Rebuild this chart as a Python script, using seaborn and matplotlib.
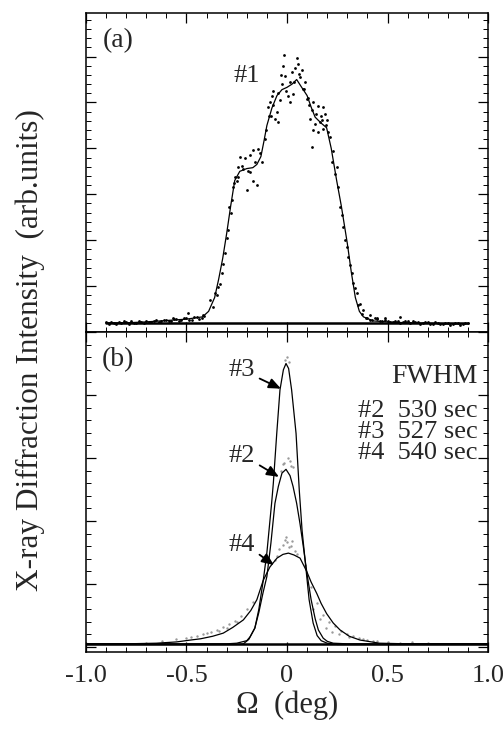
import numpy as np
import pandas as pd
import matplotlib
matplotlib.use("Agg")
import matplotlib.pyplot as plt
import seaborn as sns
from matplotlib.ticker import MultipleLocator

sns.set_theme(style="ticks")
plt.rcParams['font.family'] = ['Liberation Serif', 'DejaVu Serif']

# ---- panel (a): sample #1, fit curve + measured points ----
fit1_x = [-0.90, -0.80, -0.70, -0.60, -0.50, -0.42, -0.39, -0.36, -0.34, -0.32,
          -0.30, -0.28, -0.26, -0.235, -0.20, -0.17, -0.15, -0.13, -0.115, -0.10,
          -0.075, -0.05, -0.025, 0.00, 0.025, 0.048, 0.07, 0.10, 0.12, 0.14,
          0.17, 0.197, 0.22, 0.247, 0.27, 0.30, 0.32, 0.34, 0.36, 0.38,
          0.43, 0.50, 0.60, 0.70, 0.80, 0.90]
fit1_y = [0.20, 0.20, 0.22, 0.25, 0.28, 0.33, 0.45, 0.75, 1.15, 1.60,
          2.15, 2.75, 3.30, 3.50, 3.56, 3.58, 3.65, 3.82, 4.15, 4.50,
          4.88, 5.15, 5.28, 5.33, 5.40, 5.50, 5.35, 5.15, 4.90, 4.68,
          4.55, 4.45, 4.00, 3.30, 2.75, 1.93, 1.30, 0.75, 0.45, 0.33,
          0.24, 0.22, 0.20, 0.19, 0.18, 0.18]

pts1_x = [-0.015, 0.051, 0.056, -0.018, 0.073, 0.023, -0.010, 0.015, -0.026, -0.068,
          -0.076, -0.085, -0.093, -0.051, -0.060, -0.043, 0.007, 0.015, 0.031, 0.081,
          0.098, 0.131, 0.156, 0.123, 0.180, 0.189, 0.114, 0.139, 0.164, 0.131,
          0.156, 0.180, 0.123, 0.205, 0.214, -0.234, -0.209, -0.184, -0.168, -0.143,
          -0.242, -0.217, -0.184, -0.242, -0.200, -0.151, -0.250, -0.168, -0.125, -0.110,
          -0.383, -0.358, -0.342, -0.325, -0.317, -0.308, -0.292, -0.287, -0.275, -0.267,
          -0.259, 0.247, 0.256, 0.264, 0.280, 0.289, 0.305, 0.322, 0.330, 0.347,
          0.363, 0.380, 0.413, 0.446, 0.488, 0.562, -0.491, -0.566, -0.416, -0.030,
          0.040, 0.090, -0.005, 0.060, 0.110, 0.170, 0.200, 0.230, -0.035, -0.080,
          -0.370, -0.350, -0.333, -0.300, -0.280, -0.262, -0.222, -0.192, -0.160, -0.135,
          -0.105, -0.088, -0.070, -0.045, 0.035, 0.065, 0.085, 0.105, 0.145, 0.175,
          0.195, 0.225, 0.240, 0.272, 0.296, 0.312, 0.338, 0.355, 0.372, 0.395]
pts1_y = [6.04, 5.97, 5.83, 5.80, 5.70, 5.66, 5.57, 5.44, 5.41, 5.26,
          5.15, 5.00, 4.90, 4.79, 4.65, 4.57, 5.15, 5.00, 5.19, 5.30,
          5.08, 5.00, 4.93, 4.83, 4.90, 4.75, 4.65, 4.54, 4.57, 4.39,
          4.35, 4.43, 4.03, 4.35, 4.25, 3.81, 3.78, 3.85, 3.96, 3.99,
          3.59, 3.56, 3.48, 3.38, 3.09, 3.20, 3.30, 3.30, 3.70, 4.20,
          0.70, 0.85, 0.98, 1.28, 1.49, 1.71, 2.22, 2.72, 2.87, 3.16,
          3.38, 3.59, 3.16, 2.72, 2.29, 2.00, 1.64, 1.28, 1.06, 0.84,
          0.62, 0.48, 0.37, 0.30, 0.30, 0.33, 0.41, 0.30, 0.37, 5.60,
          5.75, 5.45, 5.25, 5.62, 4.95, 4.70, 4.62, 3.95, 5.05, 4.70,
          0.55, 0.80, 1.05, 2.05, 2.60, 3.25, 3.62, 3.50, 3.70, 3.90,
          4.40, 4.70, 4.95, 5.20, 5.45, 5.55, 5.30, 5.10, 4.75, 4.62,
          4.50, 3.70, 3.45, 2.55, 1.85, 1.45, 0.95, 0.58, 0.40, 0.31]

base1_x = [-0.90, -0.8875, -0.875, -0.8625, -0.85, -0.8375, -0.825, -0.8125, -0.80, -0.7875,
           -0.775, -0.7625, -0.75, -0.7375, -0.725, -0.7125, -0.70, -0.6875, -0.675, -0.6625,
           -0.65, -0.6375, -0.625, -0.6125, -0.60, -0.5875, -0.575, -0.5625, -0.55, -0.5375,
           -0.525, -0.5125, -0.50, -0.4875, -0.475, -0.4625, -0.45, -0.4375, -0.425, -0.4125,
           0.40, 0.4125, 0.425, 0.4375, 0.45, 0.4625, 0.475, 0.4875, 0.50, 0.5125,
           0.525, 0.5375, 0.55, 0.5625, 0.575, 0.5875, 0.60, 0.6125, 0.625, 0.6375,
           0.65, 0.6625, 0.675, 0.6875, 0.70, 0.7125, 0.725, 0.7375, 0.75, 0.7625,
           0.775, 0.7875, 0.80, 0.8125, 0.825, 0.8375, 0.85, 0.8625, 0.875, 0.8875, 0.90]
base1_y = [0.21, 0.17, 0.22, 0.19, 0.18, 0.21, 0.19, 0.23, 0.21, 0.18,
           0.23, 0.20, 0.20, 0.24, 0.22, 0.19, 0.24, 0.21, 0.21, 0.25,
           0.26, 0.22, 0.23, 0.27, 0.27, 0.23, 0.24, 0.28, 0.29, 0.25,
           0.26, 0.30, 0.31, 0.27, 0.27, 0.32, 0.32, 0.29, 0.30, 0.34,
           0.31, 0.27, 0.26, 0.30, 0.28, 0.24, 0.24, 0.27, 0.25, 0.21,
           0.22, 0.25, 0.24, 0.20, 0.21, 0.24, 0.23, 0.19, 0.23, 0.21,
           0.22, 0.18, 0.20, 0.22, 0.21, 0.17, 0.18, 0.21, 0.20, 0.17,
           0.17, 0.20, 0.20, 0.16, 0.18, 0.20, 0.19, 0.16, 0.17, 0.19, 0.19]

# ---- panel (b): samples #2, #3, #4 ----
fit2_x = [-1.00, -0.60, -0.40, -0.30, -0.25, -0.20, -0.184, -0.16, -0.14, -0.12,
          -0.10, -0.08, -0.06, -0.043, -0.025, -0.005, 0.015, 0.03, 0.048, 0.065,
          0.08, 0.10, 0.12, 0.14, 0.156, 0.18, 0.20, 0.23, 0.30, 0.50, 1.00]
fit2_y = [0.05, 0.05, 0.05, 0.05, 0.06, 0.10, 0.16, 0.30, 0.55, 0.85,
          1.12, 1.65, 2.28, 2.55, 2.76, 2.82, 2.72, 2.55, 2.28, 1.95,
          1.62, 1.15, 0.75, 0.45, 0.27, 0.14, 0.09, 0.06, 0.05, 0.05, 0.05]

fit3_x = [-1.00, -0.60, -0.40, -0.30, -0.25, -0.217, -0.19, -0.16, -0.14, -0.118,
          -0.10, -0.076, -0.068, -0.051, -0.035, -0.018, -0.005, 0.008, 0.023, 0.045,
          0.061, 0.075, 0.095, 0.11, 0.13, 0.15, 0.17, 0.20, 0.25, 0.40, 1.00]
fit3_y = [0.04, 0.04, 0.04, 0.04, 0.04, 0.05, 0.12, 0.30, 0.60, 1.06,
          1.50, 2.30, 2.60, 3.39, 4.08, 4.40, 4.50, 4.42, 4.08, 3.39,
          2.49, 1.85, 1.22, 0.75, 0.38, 0.18, 0.10, 0.06, 0.04, 0.04, 0.04]

fit4_x = [-1.00, -0.80, -0.65, -0.55, -0.48, -0.43, -0.37, -0.317, -0.27, -0.217,
          -0.18, -0.15, -0.118, -0.085, -0.05, -0.02, 0.007, 0.035, 0.065, 0.098,
          0.12, 0.148, 0.17, 0.197, 0.23, 0.264, 0.31, 0.363, 0.46, 0.60, 0.80, 1.00]
fit4_y = [0.05, 0.05, 0.06, 0.08, 0.11, 0.13, 0.17, 0.22, 0.31, 0.43,
          0.58, 0.75, 1.06, 1.27, 1.41, 1.47, 1.49, 1.46, 1.41, 1.20,
          1.03, 0.85, 0.69, 0.53, 0.38, 0.27, 0.17, 0.11, 0.06, 0.05, 0.05, 0.05]

# measured points of panel (b), drawn light grey
pts_b_x = [-0.010, 0.000, 0.010, -0.020, 0.015, -0.015, 0.005, 0.020, -0.030, 0.030,
           -0.040, -0.020, 0.000, 0.020, 0.040, -0.010, 0.010, -0.050, 0.050, -0.060,
           -0.550, -0.500, -0.450, -0.420, -0.380, -0.350, -0.320, -0.290, -0.260, -0.230,
           -0.200, -0.170, 0.120, 0.150, 0.180, 0.210, 0.240, 0.270, 0.300, 0.330,
           0.360, 0.400, 0.450, 0.500, 0.560, -0.620, -0.700, 0.620, 0.700, 0.090,
           -0.480, -0.400, -0.340, -0.300, -0.250, 0.130, 0.165, 0.195, 0.225, 0.260,
           0.310, 0.380, 0.430, -0.005, 0.025]
pts_b_y = [4.55, 4.60, 4.52, 2.90, 2.95, 2.92, 3.00, 2.88, 2.80, 2.85,
           1.55, 1.62, 1.66, 1.60, 1.52, 1.70, 1.58, 1.45, 1.48, 1.38,
           0.12, 0.14, 0.17, 0.20, 0.24, 0.27, 0.31, 0.36, 0.41, 0.49,
           0.60, 0.72, 0.95, 0.70, 0.50, 0.40, 0.33, 0.25, 0.20, 0.17,
           0.14, 0.11, 0.09, 0.08, 0.07, 0.09, 0.07, 0.08, 0.07, 1.30,
           0.16, 0.22, 0.25, 0.30, 0.40, 0.60, 0.45, 0.30, 0.24, 0.20,
           0.16, 0.12, 0.10, 1.75, 1.68]

fwhm_labels = ["#2  530 sec", "#3  527 sec", "#4  540 sec"]

fig = plt.figure(figsize=(5.04, 7.29), dpi=100)
ax_a = fig.add_axes([0.1706, 0.5446, 0.7977, 0.4376])
ax_b = fig.add_axes([0.1706, 0.1056, 0.7977, 0.4390], sharex=ax_a)

sns.scatterplot(x=base1_x, y=base1_y, ax=ax_a, color='black', s=4, linewidth=0)
sns.scatterplot(x=pts1_x, y=pts1_y, ax=ax_a, color='black', s=4, linewidth=0)
sns.lineplot(x=fit1_x, y=fit1_y, ax=ax_a, color='black', lw=0.9, estimator=None, sort=False)
ax_a.plot([-0.90, 0.90], [0.20, 0.20], color='black', lw=1.8, zorder=1)

sns.scatterplot(x=pts_b_x, y=pts_b_y, ax=ax_b, color='#9a9a9a', s=3, linewidth=0)
for fx, fy in [(fit2_x, fit2_y), (fit3_x, fit3_y), (fit4_x, fit4_y)]:
    sns.lineplot(x=fx, y=fy, ax=ax_b, color='black', lw=0.9, estimator=None, sort=False)
# thick flat background band in (b)
ax_b.axhline(0.05, color='black', lw=1.8, zorder=1)

ax_a.set_ylim(0, 6.95)
ax_b.set_ylim(-0.08, 5.0)
ax_a.set_xlim(-1.0, 1.0)

for ax in (ax_a, ax_b):
    ax.xaxis.set_major_locator(MultipleLocator(0.5))
    ax.xaxis.set_minor_locator(MultipleLocator(0.1))
    ax.yaxis.set_major_locator(MultipleLocator(1.0))
    ax.yaxis.set_minor_locator(MultipleLocator(0.2))
    ax.tick_params(which='both', direction='in', top=True, right=True,
                   left=True, bottom=True, labelleft=False, color='black')
    ax.tick_params(which='major', length=7, width=0.9)
    ax.tick_params(which='minor', length=3.5, width=0.7)
    for sp in ax.spines.values():
        sp.set_visible(True)
        sp.set_color('black')
        sp.set_linewidth(1.1)
    ax.set_ylabel("")
    ax.set_xlabel("")

ax_a.tick_params(labelbottom=False)
ax_b.set_xticks([-1.0, -0.5, 0.0, 0.5, 1.0])
ax_b.set_xticklabels(["-1.0", "-0.5", "0", "0.5", "1.0"], fontsize=19)
ax_b.tick_params(axis='x', pad=9)
ax_b.set_xlabel("Ω  (deg)", fontsize=22, labelpad=3)
fig.text(0.060, 0.52, "X-ray Diffraction Intensity  (arb.units)", rotation=90,
         ha='center', va='center', fontsize=22.5)

ax_a.text(-0.84, 6.35, "(a)", fontsize=20, ha='center', va='center')
ax_a.text(-0.265, 5.57, "#1", fontsize=19, ha='left', va='center')
ax_b.text(-0.84, 4.56, "(b)", fontsize=20, ha='center', va='center')

arr = dict(arrowstyle='-|>,head_length=0.38,head_width=0.16', color='black', lw=1.3,
           shrinkA=1, shrinkB=0, relpos=(1.0, 0.2))
ax_b.annotate("#3", xy=(-0.03, 4.10), xytext=(-0.29, 4.40), fontsize=19,
              ha='left', va='center', arrowprops=arr)
ax_b.annotate("#2", xy=(-0.04, 2.70), xytext=(-0.29, 3.03), fontsize=19,
              ha='left', va='center', arrowprops=arr)
ax_b.annotate("#4", xy=(-0.065, 1.30), xytext=(-0.29, 1.62), fontsize=19,
              ha='left', va='center', arrowprops=arr)

ax_b.text(0.95, 4.29, "FWHM", fontsize=20, ha='right', va='center')
for i, lab in enumerate(fwhm_labels):
    ax_b.text(0.95, 3.75 - i * 0.335, lab, fontsize=19, ha='right', va='center')

fig.savefig("out.png", dpi=100)
